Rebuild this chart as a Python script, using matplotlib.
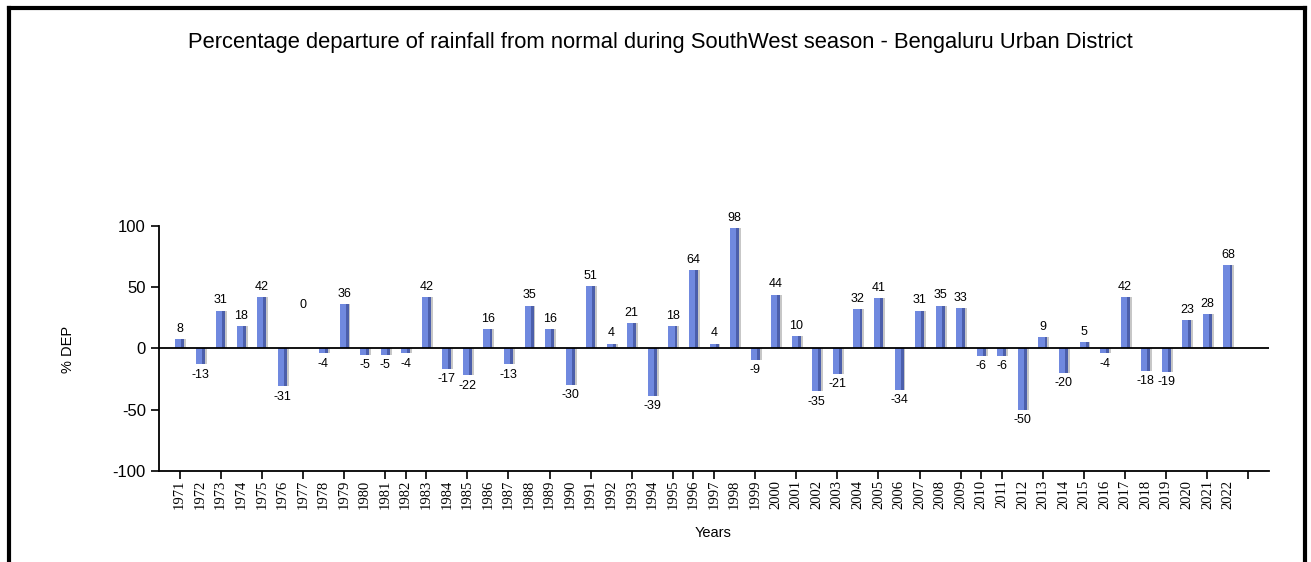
import numpy as np
import matplotlib
matplotlib.use('Agg')
import matplotlib.pyplot as plt
from matplotlib.lines import Line2D

# Percentage departure from normal, SW monsoon, Bengaluru Urban
years = list(range(1971, 2023))
departure = [8, -13, 31, 18, 42, -31, 0, -4, 36, -5,
             -5, -4, 42, -17, -22, 16, -13, 35, 16, -30,
             51, 4, 21, -39, 18, 64, 4, 98, -9, 44,
             10, -35, -21, 32, 41, -34, 31, 35, 33, -6,
             -6, -50, 9, -20, 5, -4, 42, -18, -19, 23,
             28, 68]
# the original chart puts major ticks at these years (slightly irregular)
tick_years = [1971, 1973, 1975, 1977, 1979, 1981, 1982, 1983, 1985, 1987,
              1989, 1991, 1993, 1995, 1996, 1997, 1999, 2001, 2003, 2005,
              2007, 2009, 2010, 2011, 2013, 2015, 2017, 2019, 2021, 2023]
y_ticks = [-100, -50, 0, 50, 100]

plt.rcParams['font.family'] = ['Liberation Sans', 'DejaVu Sans']

fig = plt.figure(figsize=(13.11, 5.62), dpi=100)
ax = fig.add_axes([0.1213, 0.1619, 0.8467, 0.436])

x = np.array(years)
vals = np.array(departure)
w = 0.44

# shadow, body, darker right edge -> fake 3D look
ax.bar(x + 0.09, vals, width=w, color='#9a9a9a', alpha=0.55, zorder=2)
ax.bar(x, vals, width=w, color='#7089df', zorder=3)
ax.bar(x + w * 0.34, vals, width=w * 0.32, color='#4c5fab', zorder=3)

ax.axhline(0, color='black', lw=1.3, zorder=4)

for yr, v in zip(years, departure):
    if v > 0:
        ax.annotate(str(v), (yr, v), xytext=(0, 3), textcoords='offset points',
                    ha='center', va='bottom', fontsize=9)
    elif v < 0:
        ax.annotate(str(v), (yr, v), xytext=(0, -3), textcoords='offset points',
                    ha='center', va='top', fontsize=9)
    else:
        ax.annotate(str(v), (yr, v), xytext=(0, 27), textcoords='offset points',
                    ha='center', va='bottom', fontsize=9)

ax.set_xlim(1970, 2024)
ax.set_ylim(-100, 100)
ax.set_yticks(y_ticks)
ax.set_yticklabels([str(t) for t in y_ticks], fontsize=12)
ax.set_xticks(tick_years)
ax.set_xticklabels([])
# every year gets a label, even without a tick
for yr in years:
    ax.text(yr, -0.035, str(yr), transform=ax.get_xaxis_transform(),
            rotation=90, ha='center', va='top', fontsize=10.5,
            family='Liberation Serif')

ax.tick_params(axis='both', direction='out', length=6, width=1.2, colors='black')
for s in ['top', 'right']:
    ax.spines[s].set_visible(False)
for s in ['left', 'bottom']:
    ax.spines[s].set_linewidth(1.3)

fig.text(0.0519, 0.379, '% DEP', rotation=90, ha='center', va='center', fontsize=10.5)
fig.text(0.544, 0.052, 'Years', ha='center', va='center', fontsize=10.5)
fig.text(0.504, 0.9235,
         'Percentage departure of rainfall from normal during SouthWest season - Bengaluru Urban District',
         ha='center', va='center', fontsize=15.8)

# black frame round the chart (bottom edge falls outside the image)
fig.add_artist(Line2D([0.0065, 0.0065], [0.0, 0.985], transform=fig.transFigure, color='black', lw=3))
fig.add_artist(Line2D([0.0065, 0.9955], [0.985, 0.985], transform=fig.transFigure, color='black', lw=3))
fig.add_artist(Line2D([0.9955, 0.9955], [0.0, 0.985], transform=fig.transFigure, color='black', lw=3))

fig.savefig('out.png', dpi=100)
